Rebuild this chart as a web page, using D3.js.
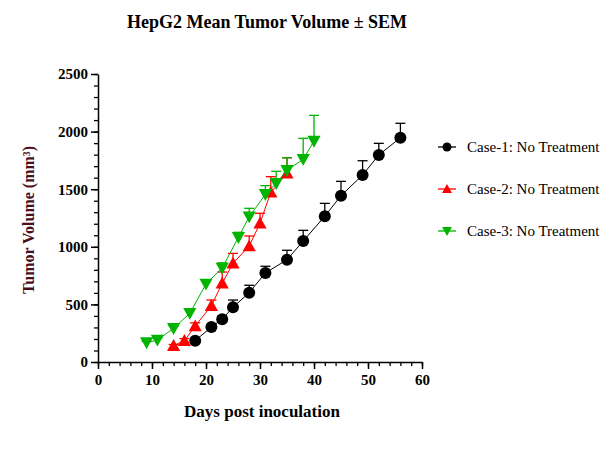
<!DOCTYPE html>
<html>
<head>
<meta charset="utf-8">
<script src="https://cdn.jsdelivr.net/npm/d3@7"></script>
<style>
  body { margin: 0; background: #fff; }
  text { font-family: "Liberation Serif", "Times New Roman", serif; }
</style>
</head>
<body>
<div id="chart"></div>
<script>
// Data
const case1Days = [18, 21, 23, 25, 28, 31, 35, 38, 42, 45, 49, 52, 56];
const case1Vol  = [185, 304, 371, 475, 602, 773, 888, 1050, 1265, 1444, 1623, 1797, 1947];
const case1Sem  = [15, 20, 28, 63, 64, 58, 82, 93, 112, 124, 124, 101, 125];

const case2Days = [14, 16, 18, 21, 23, 25, 28, 30, 32, 35];
const case2Vol  = [142, 185, 312, 489, 683, 857, 1007, 1204, 1473, 1638];
const case2Sem  = [10, 18, 28, 49, 98, 86, 87, 87, 136, 135];

const case3Days = [9, 11, 14, 17, 20, 23, 26, 28, 31, 33, 35, 38, 40];
const case3Vol  = [168, 191, 292, 423, 677, 816, 1082, 1261, 1455, 1551, 1664, 1760, 1918];
const case3Sem  = [10, 14, 20, 28, 36, 45, 44, 73, 76, 104, 109, 182, 223];

const seriesNames = ["Case-1: No Treatment", "Case-2: No Treatment", "Case-3: No Treatment"];
const xTicks = [0, 10, 20, 30, 40, 50, 60];
const yTicks = [0, 500, 1000, 1500, 2000, 2500];

const series = [
  { name: seriesNames[0], days: case1Days, vol: case1Vol, sem: case1Sem, color: "#000000", shape: "circle" },
  { name: seriesNames[1], days: case2Days, vol: case2Vol, sem: case2Sem, color: "#ff0000", shape: "up" },
  { name: seriesNames[2], days: case3Days, vol: case3Vol, sem: case3Sem, color: "#00b400", shape: "down" }
];

const W = 608, H = 453;
const plot = { left: 98, right: 422, top: 74, bottom: 362 };

const svg = d3.select("#chart").append("svg")
  .attr("width", W)
  .attr("height", H);

const x = d3.scaleLinear().domain([0, 60]).range([plot.left, plot.right]);
const y = d3.scaleLinear().domain([0, 2500]).range([plot.bottom, plot.top]);

// minor ticks
svg.append("g")
  .attr("transform", `translate(0,${plot.bottom})`)
  .call(d3.axisBottom(x).tickValues(d3.range(0, 61, 2)).tickSize(4).tickFormat(""))
  .call(g => g.select(".domain").remove())
  .selectAll("line").attr("stroke", "#000").attr("stroke-width", 1.3);

svg.append("g")
  .attr("transform", `translate(${plot.left},0)`)
  .call(d3.axisLeft(y).tickValues(d3.range(0, 2501, 100)).tickSize(4).tickFormat(""))
  .call(g => g.select(".domain").remove())
  .selectAll("line").attr("stroke", "#000").attr("stroke-width", 1.3);

// major axes
const xAxis = svg.append("g")
  .attr("transform", `translate(0,${plot.bottom})`)
  .call(d3.axisBottom(x).tickValues(xTicks).tickFormat(d3.format("d"))
    .tickSize(7).tickSizeOuter(0).tickPadding(5));

const yAxis = svg.append("g")
  .attr("transform", `translate(${plot.left},0)`)
  .call(d3.axisLeft(y).tickValues(yTicks).tickFormat(d3.format("d"))
    .tickSize(7).tickSizeOuter(0).tickPadding(3));

[xAxis, yAxis].forEach(a => {
  a.attr("font-family", null);
  a.select(".domain").attr("stroke", "#000").attr("stroke-width", 1.5);
  a.selectAll(".tick line").attr("stroke", "#000").attr("stroke-width", 1.5);
  a.selectAll(".tick text")
    .attr("fill", "#000")
    .style("font-family", "'Liberation Serif', serif")
    .style("font-size", "15px")
    .style("font-weight", "bold");
});

// title and axis labels
svg.append("text")
  .attr("x", 267).attr("y", 28)
  .attr("text-anchor", "middle")
  .style("font-size", "18px").style("font-weight", "bold")
  .text("HepG2 Mean Tumor Volume \u00b1 SEM");

svg.append("text")
  .attr("x", 262).attr("y", 417)
  .attr("text-anchor", "middle")
  .style("font-size", "17px").style("font-weight", "bold")
  .text("Days post inoculation");

svg.append("text")
  .attr("transform", `translate(34,${(plot.top + plot.bottom) / 2 + 2}) rotate(-90)`)
  .attr("text-anchor", "middle")
  .attr("fill", "#4a0f1c")
  .style("font-size", "16px").style("font-weight", "bold")
  .text("Tumor Volume (mm\u00b3)");

// symbol helper
function marker(sel, shape, color, size) {
  if (shape === "circle") {
    sel.append("circle").attr("r", size * 0.5).attr("fill", color);
  } else {
    const s = size * 0.55;
    const pts = shape === "up"
      ? [[0, -s], [s, s * 0.8], [-s, s * 0.8]]
      : [[0, s], [s, -s * 0.8], [-s, -s * 0.8]];
    sel.append("path").attr("d", "M" + pts.join("L") + "Z").attr("fill", color);
  }
}

const line = d3.line().x(d => x(d.day)).y(d => y(d.vol));

series.forEach(s => {
  const pts = s.days.map((d, i) => ({ day: d, vol: s.vol[i], sem: s.sem[i] }));
  const g = svg.append("g");

  // upper error bars
  g.selectAll("line.err").data(pts).enter().append("line")
    .attr("x1", d => x(d.day)).attr("x2", d => x(d.day))
    .attr("y1", d => y(d.vol)).attr("y2", d => y(d.vol + d.sem))
    .attr("stroke", s.color).attr("stroke-width", 1.3);
  g.selectAll("line.cap").data(pts).enter().append("line")
    .attr("x1", d => x(d.day) - 5).attr("x2", d => x(d.day) + 5)
    .attr("y1", d => y(d.vol + d.sem)).attr("y2", d => y(d.vol + d.sem))
    .attr("stroke", s.color).attr("stroke-width", 1.3);

  g.append("path").datum(pts)
    .attr("d", line)
    .attr("fill", "none")
    .attr("stroke", s.color)
    .attr("stroke-width", 1);

  pts.forEach(p => {
    const m = g.append("g").attr("transform", `translate(${x(p.day)},${y(p.vol)})`);
    marker(m, s.shape, s.color, 12);
  });
});

// legend
const legend = svg.append("g");
series.forEach((s, i) => {
  const ly = 147 + i * 42;
  legend.append("line")
    .attr("x1", 438).attr("x2", 456).attr("y1", ly).attr("y2", ly)
    .attr("stroke", s.color).attr("stroke-width", 1.3);
  const m = legend.append("g").attr("transform", `translate(447,${ly})`);
  marker(m, s.shape, s.color, 9);
  legend.append("text")
    .attr("x", 467).attr("y", ly + 5)
    .style("font-size", "15px")
    .text(s.name);
});
</script>
</body>
</html>
